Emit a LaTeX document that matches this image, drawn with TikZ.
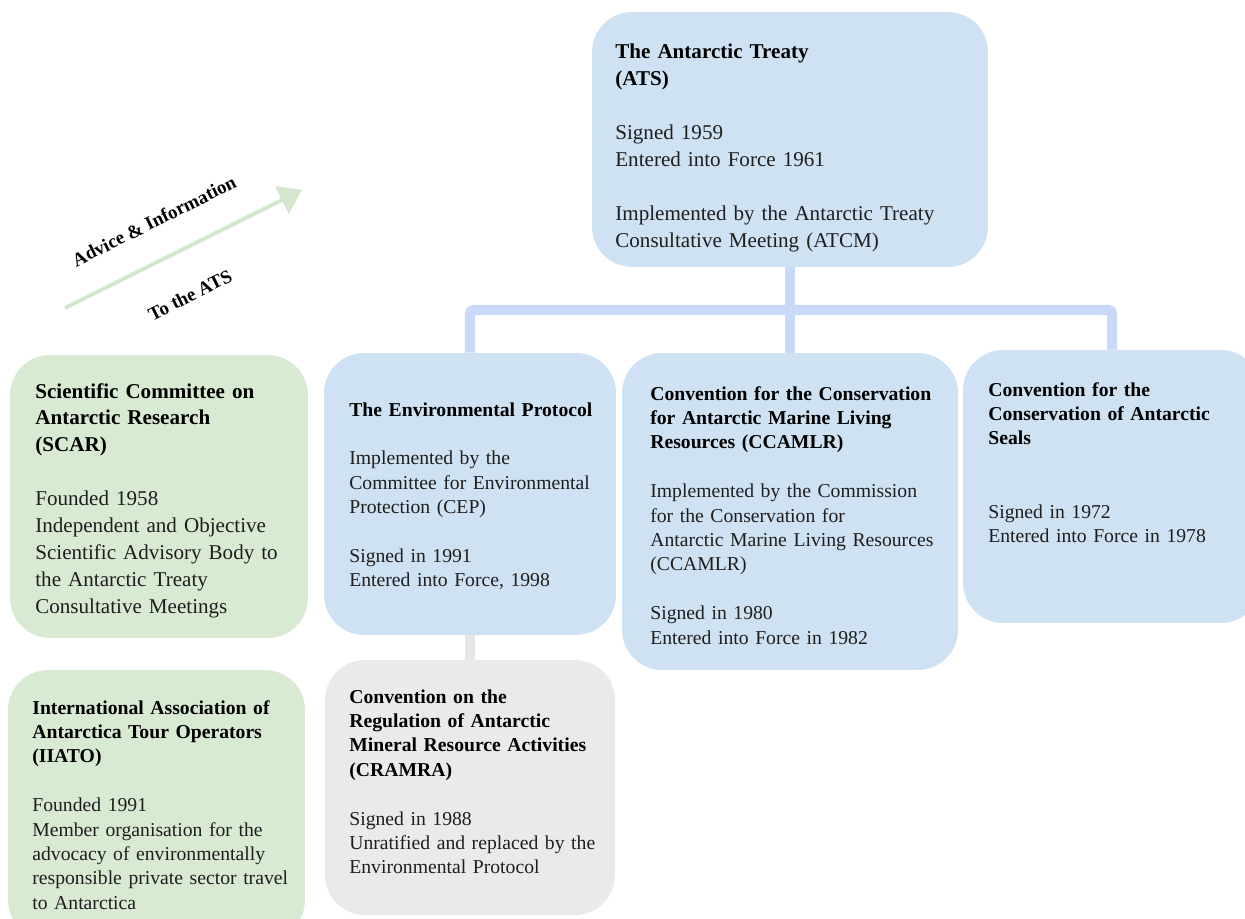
\documentclass[tikz,border=0pt]{standalone}
\usepackage{fontspec}
\setmainfont{Liberation Serif}
\usetikzlibrary{arrows.meta}
\definecolor{boxblue}{HTML}{CFE2F3}
\definecolor{boxgreen}{HTML}{D9EAD3}
\definecolor{boxgrey}{HTML}{EAEAEA}
\definecolor{linkblue}{HTML}{C9DAF8}
\definecolor{linkgrey}{HTML}{E6E6E6}
\definecolor{arrowgreen}{HTML}{D3E6CE}
\definecolor{bodytext}{HTML}{1E1E1E}

\begin{document}
\begin{tikzpicture}[x=0.02cm, y=-0.02cm,
  bluebox/.style={rectangle, fill=boxblue, rounded corners=0.8cm, inner sep=0pt},
  greenbox/.style={bluebox, fill=boxgreen},
  greybox/.style={bluebox, fill=boxgrey},
  bigtext/.style={anchor=base west, inner sep=0pt, text width=7.5cm, align=left, text=bodytext, font=\fontsize{12}{15.3}\selectfont},
  smalltext/.style={bigtext, font=\fontsize{11.2}{13.9}\selectfont},
  link/.style={draw=linkblue, line width=5.7pt, rounded corners=2pt},
  advice/.style={draw=arrowgreen, line width=2.2pt, -{Triangle[width=0.6cm,length=0.45cm]}},
  tag/.style={inner sep=0pt, rotate=26.5, font=\fontsize{10.8}{13}\selectfont\bfseries}]
\useasboundingbox (0,0) rectangle (1245,919);

% boxes
\node[bluebox, minimum width=7.92cm, minimum height=5.10cm] (ats) at (790,139.5) {};
\node[bluebox, minimum width=5.84cm, minimum height=5.64cm] (ep) at (470,494) {};
\node[bluebox, minimum width=6.72cm, minimum height=6.34cm] (ccamlr) at (790,511.5) {};
\node[bluebox, minimum width=5.96cm, minimum height=5.46cm] (seals) at (1112,486.5) {};
\node[greenbox, minimum width=5.96cm, minimum height=5.66cm] (scar) at (159,496.5) {};
\node[greenbox, minimum width=5.94cm, minimum height=5.40cm] (iiato) at (156.5,805) {};
\node[greybox, minimum width=5.80cm, minimum height=5.10cm] (cramra) at (470,787.5) {};

% connectors
\coordinate (bar) at (790,310);
\draw[link] (ats.south) -- (bar);
\draw[link] (ep.north) |- (bar) -| (seals.north);
\draw[link] (bar) -- (ccamlr.north);
\draw[link, draw=linkgrey] (ep.south) -- (cramra.north);

% advice arrow
\coordinate (a0) at (65,308);
\coordinate (a1) at (302,190);
\draw[advice] (a0) -- (a1);
\node[tag] (adv) at (154,221) {Advice \& Information};
\node[tag] (toats) at (190,295) {To the ATS};

\node[bigtext] (ats-t) at (615,59) {{\bfseries\color{black} The Antarctic Treaty\\(ATS)}\\[15.3pt]
Signed 1959\\Entered into Force 1961\\[15.3pt]
Implemented by the Antarctic Treaty\\Consultative Meeting (ATCM)};

\node[bigtext] (scar-t) at (35,398) {{\bfseries\color{black} Scientific Committee on\\Antarctic Research\\(SCAR)}\\[15.3pt]
Founded 1958\\Independent and Objective\\Scientific Advisory Body to\\the Antarctic Treaty\\Consultative Meetings};

\node[smalltext] (ep-t) at (349,416) {{\bfseries\color{black} The Environmental Protocol}\\[13.9pt]
Implemented by the\\Committee for Environmental\\Protection (CEP)\\[13.9pt]
Signed in 1991\\Entered into Force, 1998};

\node[smalltext] (ccamlr-t) at (650,400) {{\bfseries\color{black} Convention for the Conservation\\for Antarctic Marine Living\\Resources (CCAMLR)}\\[13.9pt]
Implemented by the Commission\\for the Conservation for\\Antarctic Marine Living Resources\\(CCAMLR)\\[13.9pt]
Signed in 1980\\Entered into Force in 1982};

\node[smalltext] (seals-t) at (988,396) {{\bfseries\color{black} Convention for the\\Conservation of Antarctic\\Seals}\\[27.8pt]
Signed in 1972\\Entered into Force in 1978};

\node[smalltext] (iiato-t) at (32,714) {{\bfseries\color{black} International Association of\\Antarctica Tour Operators\\(IIATO)}\\[13.9pt]
Founded 1991\\Member organisation for the\\advocacy of environmentally\\responsible private sector travel\\to Antarctica};

\node[smalltext] (cramra-t) at (349,703) {{\bfseries\color{black} Convention on the\\Regulation of Antarctic\\Mineral Resource Activities\\(CRAMRA)}\\[13.9pt]
Signed in 1988\\Unratified and replaced by the\\Environmental Protocol};
\end{tikzpicture}
\end{document}
